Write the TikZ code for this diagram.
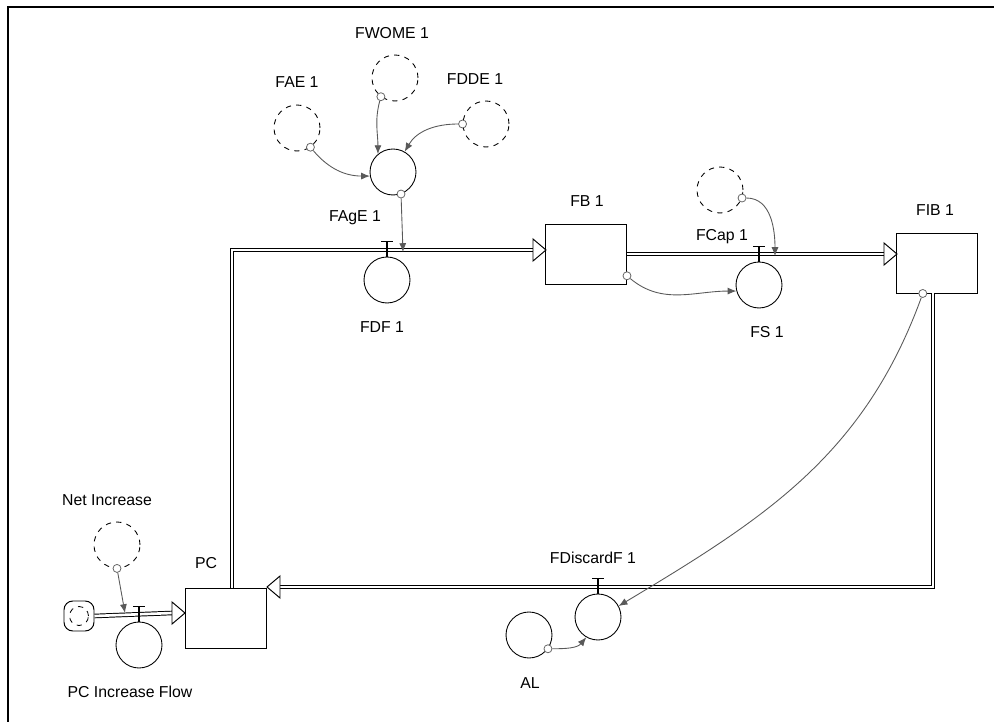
\documentclass[tikz,border=0pt]{standalone}
\usepackage{fontspec}
\setmainfont{Liberation Sans}
\usetikzlibrary{arrows.meta}

\tikzset{
  lbl/.style={font=\fontsize{9}{10}\selectfont, inner sep=0pt},
  stock/.style={draw, rectangle, line width=.55pt, minimum width=1.62cm, minimum height=1.2cm, inner sep=0pt},
  flowcirc/.style={draw, circle, line width=.5pt, minimum size=.92cm, inner sep=0pt},
  ghost/.style={flowcirc, dashed},
  handle/.style={draw=black!60, fill=white, circle, line width=.45pt, minimum size=.16cm, inner sep=0pt},
  pipe/.style={double, double distance=1.5pt, line width=.55pt},
  flowtip/.style={draw, fill=white, line width=.55pt, line join=miter},
  valve/.style={line width=.6pt},
  conn/.style={draw=black!65, line width=.5pt, -{Latex[length=5pt,width=4pt]}}
}

\begin{document}
\begin{tikzpicture}[x=0.02cm, y=-0.02cm, line cap=butt]
  \useasboundingbox (0,0) rectangle (994,722);
  \draw[line width=1.2pt] (8,722) -- (8,7) -- (994,7);

  % stocks
  \node[stock] (PC)   at (226,618) {};
  \node[stock] (FB1)  at (586,254) {};
  \node[stock] (FIB1) at (937,263) {};

  % source cloud
  \node[draw, rounded corners=5pt, minimum size=.6cm, line width=.55pt] (src) at (79,616) {};
  \node[draw, dashed, circle, minimum size=.38cm, line width=.45pt] at (src) {};

  % pipes
  \draw[pipe] (src.east) -- (172,613);
  \draw[flowtip] (185,613) -- ++(-13,-11) -- ++(0,22) -- cycle;
  \draw[pipe] (232,588) -- (232,250) -- (533,250);
  \draw[flowtip] (546,250) -- ++(-13,-11) -- ++(0,22) -- cycle;
  \draw[pipe] (FB1.east) -- (884,254);
  \draw[flowtip] (897,254) -- ++(-13,-11) -- ++(0,22) -- cycle;
  \draw[pipe] (933,293) -- (933,587) -- (280,587);
  \draw[flowtip] (267,587) -- ++(13,-11) -- ++(0,22) -- cycle;

  % flows
  \node[flowcirc] (PCIF)      at (139,645) {};
  \node[flowcirc] (FDF)       at (387,280) {};
  \node[flowcirc] (FS)        at (759,285) {};
  \node[flowcirc] (FDiscardF) at (598,617) {};
  \foreach \v in {PCIF, FDF, FS, FDiscardF}
    \draw[valve] (\v.north) -- ++(0,-15) ++(-6,0) -- ++(12,0);

  % converters
  \node[flowcirc] (FAgE) at (393,172) {};
  \node[flowcirc] (AL)   at (529,635) {};
  \node[ghost] (FAE)    at (297,128) {};
  \node[ghost] (FWOME)  at (395,78) {};
  \node[ghost] (FDDE)   at (486,124) {};
  \node[ghost] (FCap)   at (720,190) {};
  \node[ghost] (NetInc) at (117,545) {};

  % connector handles
  \node[handle] (hFAE)   at (FAE.-55) {};
  \node[handle] (hFWOME) at (FWOME.-127) {};
  \node[handle] (hFDDE)  at (FDDE.180) {};
  \node[handle] (hFAgE)  at (FAgE.-70) {};
  \node[handle] (hFCap)  at (FCap.-20) {};
  \node[handle] (hFB1)   at (FB1.-28) {};
  \node[handle] (hFIB1)  at (FIB1.245) {};
  \node[handle] (hAL)    at (AL.-36) {};
  \node[handle] (hNet)   at (NetInc.south) {};

  \coordinate (FDFin)  at (403,252);
  \coordinate (FSin)   at (775,256);
  \coordinate (PCIFin) at (125,613);

  % connectors
  \draw[conn] (hFAE) to[out=-50, in=180] (FAgE.190);
  \draw[conn] (hFWOME) to[out=-105, in=90] (FAgE.130);
  \draw[conn] (hFDDE) to[out=180, in=60] (FAgE.60);
  \draw[conn] (hFAgE) -- (FDFin);
  \draw[conn] (hFCap) to[out=0, in=90] (FSin);
  \draw[conn] (hFB1) to[out=-40, in=180] (FS.195);
  \draw[conn] (hFIB1) to[out=250, in=31] (FDiscardF.28);
  \draw[conn] (hAL) to[out=0, in=230] (FDiscardF.240);
  \draw[conn] (hNet) -- (PCIFin);

  % labels
  \node[lbl] (lFWOME) at (392,33)  {FWOME 1};
  \node[lbl] (lFAE)   at (297,82)  {FAE 1};
  \node[lbl] (lFDDE)  at (475,79)  {FDDE 1};
  \node[lbl] (lFAgE)  at (355,218) {FAgE 1};
  \node[lbl] (lFDF)   at (382,327) {FDF 1};
  \node[lbl] (lFB1)   at (587,201) {FB 1};
  \node[lbl] (lFCap)  at (722,237) {FCap 1};
  \node[lbl] (lFS)    at (767,332) {FS 1};
  \node[lbl] (lFIB1)  at (935,210) {FIB 1};
  \node[lbl] (lNet)   at (107,500) {Net Increase};
  \node[lbl] (lPC)    at (206,563) {PC};
  \node[lbl] (lPCIF)  at (130,692) {PC Increase Flow};
  \node[lbl] (lFDis)  at (593,558) {FDiscardF 1};
  \node[lbl] (lAL)    at (530,683) {AL};
\end{tikzpicture}
\end{document}
